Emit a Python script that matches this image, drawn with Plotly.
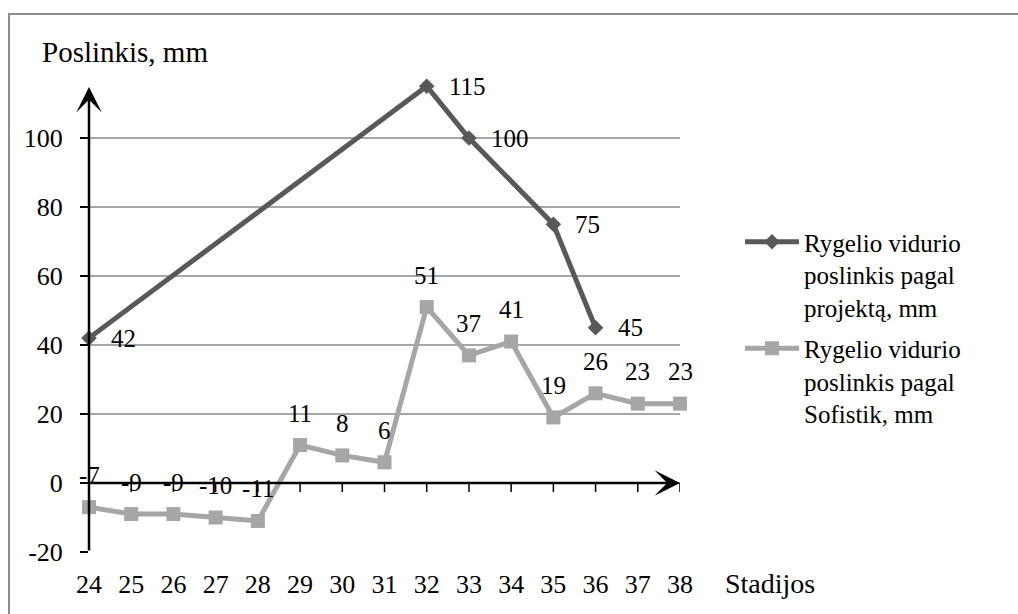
import plotly.graph_objects as go

# Construction stages on the horizontal axis
stages = list(range(24, 39))

# Mid-span displacement of the beam, mm
projected = [42, None, None, None, None, None, None, None, 115, 100, None, 75, 45, None, None]
sofistik = [-7, -9, -9, -10, -11, 11, 8, 6, 51, 37, 41, 19, 26, 23, 23]

y_ticks = [-20, 0, 20, 40, 60, 80, 100]

name_projected = "Rygelio vidurio<br>poslinkis pagal<br>projektą, mm"
name_sofistik = "Rygelio vidurio<br>poslinkis pagal<br>Sofistik, mm"

FONT = "Liberation Serif, Times New Roman, serif"
DARK = "#595959"
LIGHT = "#A6A6A6"

W, H = 1018, 614
fig = go.Figure()

fig.add_trace(go.Scatter(
    x=stages, y=projected, name=name_projected, mode="lines+markers",
    connectgaps=True, cliponaxis=False, legendgroup="a",
    line=dict(color=DARK, width=5),
    marker=dict(symbol="diamond", size=12, color=DARK),
))
fig.add_trace(go.Scatter(
    x=stages, y=sofistik, name=name_sofistik, mode="lines+markers",
    cliponaxis=False, legendgroup="b",
    line=dict(color=LIGHT, width=5),
    marker=dict(symbol="square", size=14, color=LIGHT),
))

annotations = []
# value labels: right of the projected points, above the Sofistik points
for x, v in zip(stages, projected):
    if v is not None:
        annotations.append(dict(x=x, y=v, text=str(v), showarrow=False,
                                xanchor="left", yanchor="middle", xshift=20,
                                font=dict(family=FONT, size=25, color="black")))
for x, v in zip(stages, sofistik):
    annotations.append(dict(x=x, y=v, text=str(v), showarrow=False,
                            xanchor="center", yanchor="middle", yshift=32,
                            font=dict(family=FONT, size=25, color="black")))

# axis arrows
annotations.append(dict(x=stages[0], y=114.8, ax=stages[0], ay=y_ticks[0],
                        xref="x", yref="y", axref="x", ayref="y", text="",
                        showarrow=True, arrowhead=3, arrowsize=1.7,
                        arrowwidth=2.5, arrowcolor="black"))
annotations.append(dict(x=stages[-1], y=0, ax=stages[0], ay=0,
                        xref="x", yref="y", axref="x", ayref="y", text="",
                        showarrow=True, arrowhead=3, arrowsize=1.7,
                        arrowwidth=2.5, arrowcolor="black"))

# axis titles
annotations.append(dict(x=40 / W, y=1 - 52 / H, xref="paper", yref="paper",
                        text="Poslinkis, mm", showarrow=False,
                        xanchor="left", yanchor="middle",
                        font=dict(family=FONT, size=29, color="black")))
annotations.append(dict(x=723 / W, y=1 - 583 / H, xref="paper", yref="paper",
                        text="Stadijos", showarrow=False,
                        xanchor="left", yanchor="middle",
                        font=dict(family=FONT, size=28, color="black")))

shapes = []
# small tick marks under the horizontal axis arrow
for x in stages:
    shapes.append(dict(type="line", xref="x", yref="y", x0=x, x1=x,
                       ysizemode="pixel", yanchor=0, y0=0, y1=-9,
                       line=dict(color="black", width=1.5)))
# outer frame
shapes.append(dict(type="rect", xref="paper", yref="paper",
                   x0=9 / W, x1=1.05, y0=-0.05, y1=1 - 14 / H,
                   line=dict(color="#8C8C8C", width=2), layer="below"))

fig.update_layout(
    width=W, height=H,
    margin=dict(l=0, r=0, t=0, b=0, autoexpand=False),
    paper_bgcolor="white", plot_bgcolor="white",
    font=dict(family=FONT, size=26, color="black"),
    showlegend=True,
    legend=dict(x=740 / W, y=1 - 219 / H, xanchor="left", yanchor="top",
                valign="top",
                font=dict(family=FONT, size=25, color="black"),
                itemwidth=54, tracegroupgap=6, bgcolor="rgba(0,0,0,0)"),
    xaxis=dict(domain=[89 / W, 680 / W], range=[stages[0], stages[-1]],
               automargin=False,
               tickmode="array", tickvals=stages, ticktext=[str(s) for s in stages],
               showgrid=False, zeroline=False, showline=False,
               ticks="outside", ticklen=9, tickcolor="rgba(0,0,0,0)",
               tickfont=dict(family=FONT, size=26)),
    yaxis=dict(domain=[1 - 552 / H, 1 - 69 / H], range=[-20, 120],
               automargin=False,
               tickmode="array", tickvals=y_ticks, ticktext=[str(v) for v in y_ticks],
               showgrid=True, gridcolor=LIGHT, gridwidth=1.5,
               zeroline=False, showline=False,
               ticks="outside", ticklen=8, tickwidth=1.5, tickcolor="black",
               ticklabelstandoff=12,
               tickfont=dict(family=FONT, size=26)),
    annotations=annotations,
    shapes=shapes,
)

fig.write_html("out.html")
